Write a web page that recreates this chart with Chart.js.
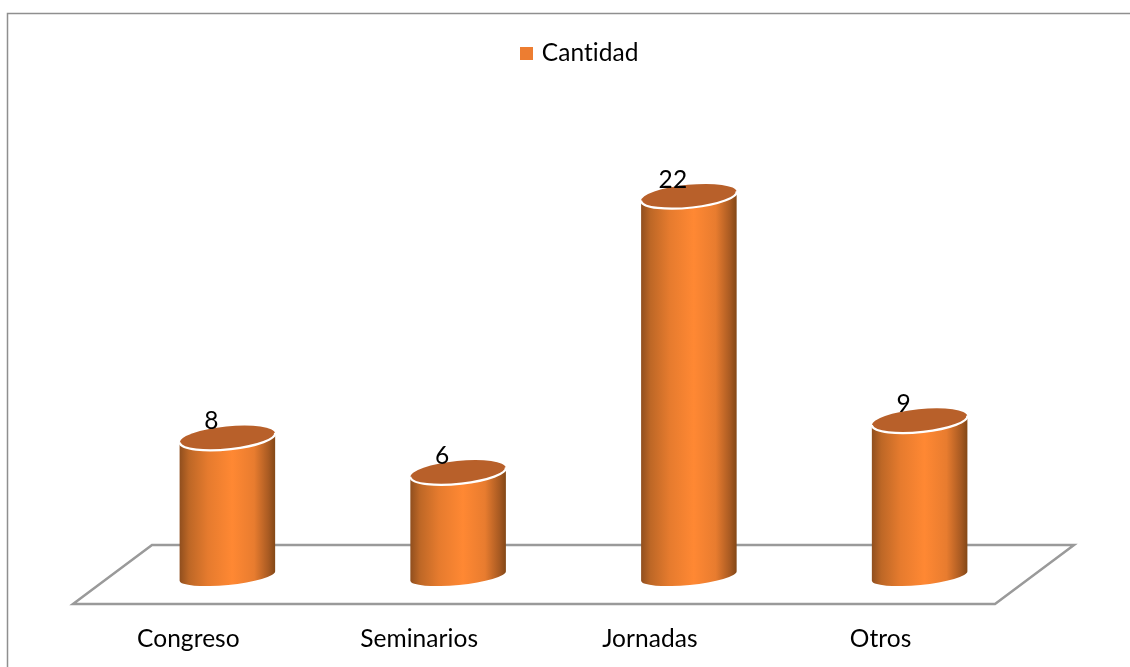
<!DOCTYPE html>
<html lang="es">
<head>
<meta charset="utf-8">
<title>Cantidad</title>
<style>html,body{margin:0;padding:0;background:#fff}canvas{display:block}</style>
<script src="https://cdn.jsdelivr.net/npm/chart.js@4"></script>
</head>
<body>
<canvas id="c" width="1130" height="667"></canvas>
<script>
const categories = ['Congreso', 'Seminarios', 'Jornadas', 'Otros'];
const cantidad = [8, 6, 22, 9];
const seriesName = 'Cantidad';

const FONT = 'Lato, Carlito, Calibri, sans-serif';
const ROT = -0.098, RY = 11.5, RY_BOTTOM = 9;

const swatch = document.createElement('canvas');
swatch.width = 13; swatch.height = 13;
const sctx = swatch.getContext('2d');
sctx.fillStyle = '#ed7d31';
sctx.fillRect(0, 0, 13, 13);

class CylinderElement extends Chart.BarElement {
  draw(ctx) {
    const { x, y, base, width } = this.getProps(['x', 'y', 'base', 'width']);
    const rx = width / 2, dx = rx * Math.cos(ROT), dy = rx * Math.sin(ROT);
    const g = ctx.createLinearGradient(x - rx, 0, x + rx, 0);
    g.addColorStop(0, '#8f4e1e');
    g.addColorStop(0.1, '#bd6726');
    g.addColorStop(0.3, '#e67b2e');
    g.addColorStop(0.55, '#ff8833');
    g.addColorStop(0.78, '#e87c2f');
    g.addColorStop(0.93, '#a85a22');
    g.addColorStop(1, '#824716');
    ctx.save();
    ctx.beginPath();
    ctx.moveTo(x - dx, y - dy);
    ctx.lineTo(x - dx, base - dy);
    ctx.ellipse(x, base, rx, RY_BOTTOM, ROT, Math.PI, 0, true);
    ctx.lineTo(x + dx, y + dy);
    ctx.closePath();
    ctx.fillStyle = g;
    ctx.fill();
    ctx.beginPath();
    ctx.ellipse(x, y, rx, RY, ROT, 0, Math.PI * 2);
    ctx.fillStyle = '#b8602a';
    ctx.fill();
    ctx.beginPath();
    ctx.ellipse(x, y, rx, RY, ROT, -0.05, Math.PI + 0.05);
    ctx.strokeStyle = '#ffffff';
    ctx.lineWidth = 2.2;
    ctx.stroke();
    ctx.restore();
  }
}
CylinderElement.id = 'cylinder';
CylinderElement.defaults = Chart.BarElement.defaults;

class CylinderController extends Chart.BarController {}
CylinderController.id = 'cylinder';
CylinderController.defaults = Object.assign({}, Chart.BarController.defaults, { dataElementType: 'cylinder' });
CylinderController.overrides = Chart.BarController.overrides;
Chart.register(CylinderElement, CylinderController);

const decor = {
  id: 'decor',
  afterLayout(chart) {
    chart.legend.left += 8;
    chart.legend.right += 8;
  },
  beforeDraw(chart) {
    chart.ctx.letterSpacing = '0.05px';
  },
  beforeDatasetsDraw(chart) {
    const { ctx, chartArea: a, scales } = chart;
    const base = scales.y.getPixelForValue(0);
    ctx.save();
    ctx.strokeStyle = '#9a9a9a';
    ctx.lineWidth = 2.5;
    ctx.lineJoin = 'miter';
    ctx.beginPath();
    ctx.moveTo(a.left - 39, base + 28);
    ctx.lineTo(a.left + 40, base - 31);
    ctx.lineTo(a.right + 39, base - 31);
    ctx.lineTo(a.right - 40, base + 28);
    ctx.closePath();
    ctx.stroke();
    ctx.strokeStyle = '#8f8f8f';
    ctx.lineWidth = 1.5;
    ctx.beginPath();
    ctx.moveTo(7.5, 667);
    ctx.lineTo(7.5, 13.5);
    ctx.lineTo(1130, 13.5);
    ctx.stroke();
    ctx.restore();
  },
  afterDatasetsDraw(chart) {
    const { ctx } = chart;
    ctx.save();
    ctx.fillStyle = '#000';
    ctx.font = '24.5px ' + FONT;
    ctx.textAlign = 'center';
    ctx.textBaseline = 'middle';
    chart.getDatasetMeta(0).data.forEach((el, i) => {
      ctx.fillText(String(cantidad[i]), el.x - 16, el.y - 16.5);
    });
    ctx.restore();
  }
};

new Chart(document.getElementById('c'), {
  type: 'cylinder',
  data: {
    labels: categories,
    datasets: [{
      label: seriesName,
      data: cantidad,
      backgroundColor: '#ed7d31',
      barPercentage: 0.416,
      categoryPercentage: 1,
      clip: false
    }]
  },
  options: {
    responsive: false,
    animation: false,
    layout: { padding: { left: 112, right: 95, top: 31, bottom: 14 } },
    plugins: {
      tooltip: { enabled: false },
      legend: {
        position: 'top',
        labels: {
          usePointStyle: true,
          pointStyle: swatch,
          boxWidth: 5, boxHeight: 13, padding: 10,
          color: '#000',
          font: { family: FONT, size: 24.5 }
        }
      }
    },
    scales: {
      y: { display: false, min: 0, max: 29 },
      x: {
        afterFit(scale) { scale.height = 77; },
        border: { display: false },
        grid: { display: false, drawTicks: false, tickLength: 0 },
        ticks: { padding: 48, labelOffset: -39, color: '#000', font: { family: FONT, size: 24.5 }, maxRotation: 0 }
      }
    }
  },
  plugins: [decor]
});
</script>
</body>
</html>
